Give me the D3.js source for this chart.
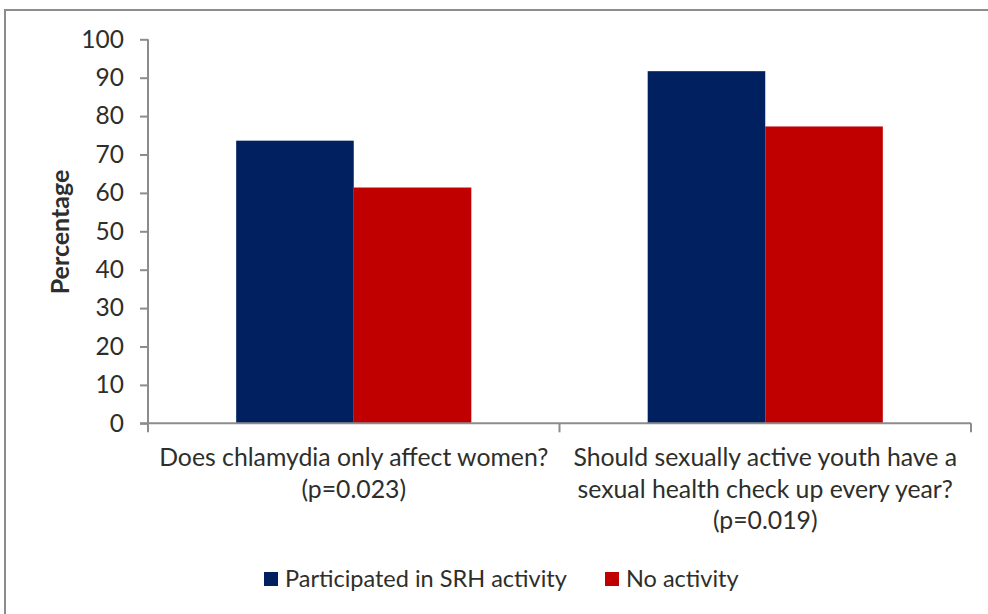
<!DOCTYPE html>
<html>
<head>
<meta charset="utf-8">
<script src="https://cdn.jsdelivr.net/npm/d3@7"></script>
<style>
  html, body { margin: 0; padding: 0; background: #fff; }
  svg { display: block; }
  text { font-family: Lato, "Open Sans", sans-serif; fill: #2e2e2a; }
</style>
</head>
<body>
<svg id="chart" width="988" height="614"></svg>
<script>
// Survey questions (x-axis categories), each drawn over several lines
const categories = ["q1", "q2"];
const categoryLines = [
  ["Does chlamydia only affect women?", "(p=0.023)"],
  ["Should sexually active youth have a", "sexual health check up every year?", "(p=0.019)"]
];
const seriesNames = ["Participated in SRH activity", "No activity"];
const participatedValues = [73.6, 91.7];
const noActivityValues = [61.4, 77.3];
const seriesColors = ["#002060", "#C00000"];
const yTicks = [0, 10, 20, 30, 40, 50, 60, 70, 80, 90, 100];
const yLabel = "Percentage";

const svg = d3.select("#chart");
const axisColor = "#8c8c8c";

// Outer frame of the chart area
svg.append("rect")
  .attr("x", 5).attr("y", 10)
  .attr("width", 1000).attr("height", 620)
  .attr("fill", "none")
  .attr("stroke", axisColor)
  .attr("stroke-width", 2);

const plot = { left: 148, right: 971, top: 39.3, bottom: 423.3 };

const y = d3.scaleLinear().domain([0, 100]).range([plot.bottom, plot.top]);
const x0 = d3.scaleBand().domain(categories).range([plot.left, plot.right]).padding(0);
const barW = x0.bandwidth() / 3.5;
const x1 = d3.scaleBand().domain(seriesNames)
  .range([barW * 0.75, x0.bandwidth() - barW * 0.75]).padding(0);

const rows = categories.map((c, i) => ({
  cat: c,
  values: [participatedValues[i], noActivityValues[i]]
}));

// Bars
const groups = svg.append("g").selectAll("g")
  .data(rows).join("g")
  .attr("transform", d => `translate(${x0(d.cat)},0)`);

groups.selectAll("rect")
  .data(d => d.values.map((v, j) => ({ v, j })))
  .join("rect")
  .attr("x", d => x1(seriesNames[d.j]))
  .attr("y", d => y(d.v))
  .attr("width", x1.bandwidth())
  .attr("height", d => y(0) - y(d.v))
  .attr("fill", d => seriesColors[d.j]);

// Y axis
const yAxis = svg.append("g")
  .attr("transform", `translate(${plot.left},0)`)
  .call(d3.axisLeft(y).tickValues(yTicks).tickSize(8).tickPadding(16));
yAxis.select(".domain").attr("stroke", axisColor).attr("stroke-width", 2)
  .attr("d", `M0,${plot.top}V${plot.bottom}`);
yAxis.selectAll(".tick line").attr("stroke", axisColor).attr("stroke-width", 2);
yAxis.selectAll(".tick text")
  .attr("font-size", 24.5)
  .attr("font-family", "Lato, sans-serif")
  .attr("fill", "#2e2e2a");

// X axis: ticks on category boundaries
const xAxis = svg.append("g");
xAxis.append("line")
  .attr("x1", plot.left - 8).attr("x2", plot.right)
  .attr("y1", plot.bottom).attr("y2", plot.bottom)
  .attr("stroke", axisColor).attr("stroke-width", 2);
const boundaries = categories.map(c => x0(c)).concat([x0(categories[categories.length - 1]) + x0.bandwidth()]);
xAxis.selectAll("line.tick")
  .data(boundaries).join("line")
  .attr("class", "tick")
  .attr("x1", d => d).attr("x2", d => d)
  .attr("y1", plot.bottom).attr("y2", plot.bottom + 9)
  .attr("stroke", axisColor).attr("stroke-width", 2);

// Multi-line category labels
const catLabels = svg.append("g").selectAll("text")
  .data(rows).join("text")
  .attr("text-anchor", "middle")
  .attr("font-size", 24.8)
  .attr("x", d => x0(d.cat) + x0.bandwidth() / 2)
  .attr("y", 466);
catLabels.selectAll("tspan")
  .data((d, i) => categoryLines[i])
  .join("tspan")
  .attr("x", function () { return d3.select(this.parentNode).attr("x"); })
  .attr("dy", (d, i) => i === 0 ? 0 : 31.5)
  .text(d => d);

// Y-axis title
svg.append("text")
  .attr("transform", `translate(69,232) rotate(-90)`)
  .attr("text-anchor", "middle")
  .attr("font-size", 25)
  .attr("font-weight", "bold")
  .text(yLabel);

// Legend
const legendItems = [{ x: 264, name: seriesNames[0], color: seriesColors[0] },
                     { x: 605, name: seriesNames[1], color: seriesColors[1] }];
const lg = svg.append("g").selectAll("g").data(legendItems).join("g")
  .attr("transform", d => `translate(${d.x},572)`);
lg.append("rect").attr("width", 14).attr("height", 14).attr("fill", d => d.color);
lg.append("text").attr("x", 21).attr("y", 14.5).attr("font-size", 23.5).text(d => d.name);
</script>
</body>
</html>
